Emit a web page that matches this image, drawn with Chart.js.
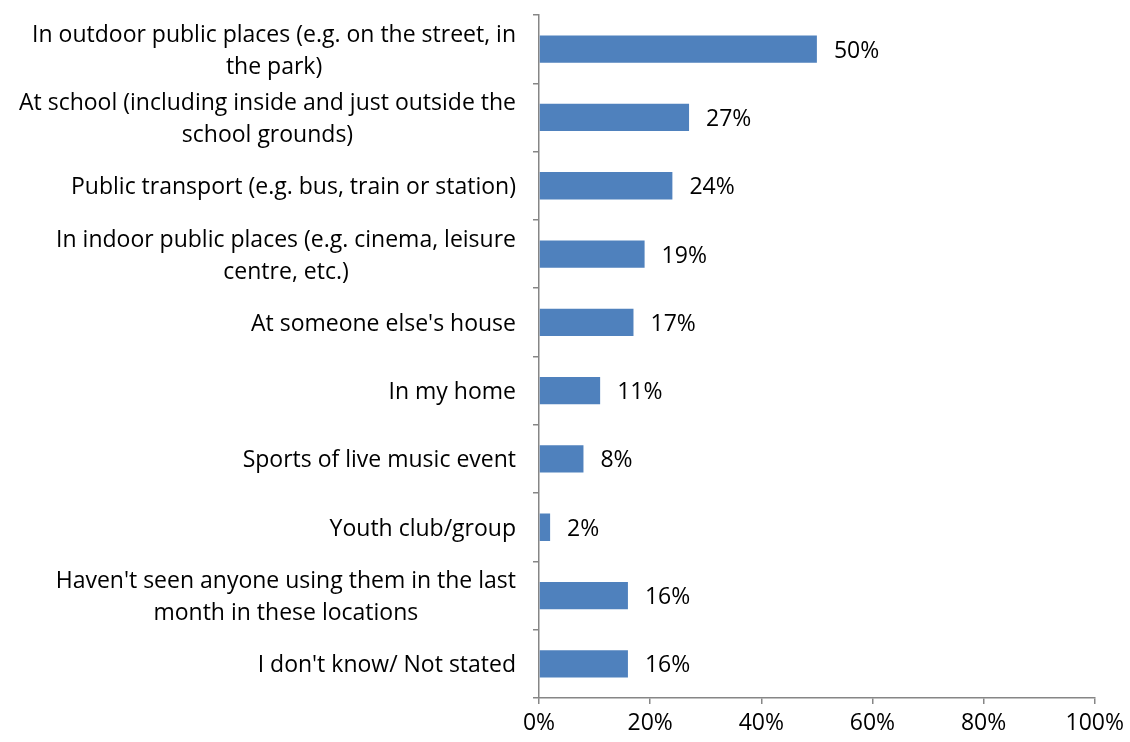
<!DOCTYPE html>
<html>
<head>
<meta charset="utf-8">
<script src="https://cdn.jsdelivr.net/npm/chart.js@4/dist/chart.umd.min.js"></script>
<style>
html,body{margin:0;padding:0;background:#fff;}
</style>
</head>
<body>
<canvas id="placesChart" width="1130" height="742"></canvas>
<script>
const places=[
["In outdoor public places (e.g. on the street, in","the park)"],
["At school (including inside and just outside the","school grounds)"],
["Public transport (e.g. bus, train or station)"],
["In indoor public places (e.g. cinema, leisure","centre, etc.)"],
["At someone else's house"],
["In my home"],
["Sports of live music event"],
["Youth club/group"],
["Haven't seen anyone using them in the last","month in these locations"],
["I don't know/ Not stated"]
];

const percents=[50,27,24,19,17,11,8,2,16,16];

const xTicks=[0,20,40,60,80,100];

const FONT="'Open Sans', sans-serif";
const FONT_SIZE=23;
const AXIS="#868686";

// category labels: block right-aligned to the axis, lines centred inside the block
const placeLabels={
id:"placeLabels",
afterDraw(chart){
const ctx=chart.ctx;
const y=chart.scales.y;
ctx.save();
ctx.font=FONT_SIZE+"px "+FONT;
ctx.fillStyle="#000";
ctx.textAlign="center";
ctx.textBaseline="middle";
const right=y.right-23;
const lh=32;
places.forEach((lines,i)=>{
const w=Math.max(...lines.map(l=>ctx.measureText(l).width));
const cx=right-w/2;
const cy=y.getPixelForValue(i)+2;
const top=cy-(lines.length-1)*lh/2;
lines.forEach((l,j)=>ctx.fillText(l,cx,top+j*lh));
});
ctx.restore();
}
};

// value labels after each bar
const valueLabels={
id:"valueLabels",
afterDatasetsDraw(chart){
const ctx=chart.ctx;
ctx.save();
ctx.font=FONT_SIZE+"px "+FONT;
ctx.fillStyle="#000";
ctx.textAlign="left";
ctx.textBaseline="middle";
chart.getDatasetMeta(0).data.forEach((bar,i)=>{
ctx.fillText(percents[i]+"%",bar.x+17,bar.y+2);
});
ctx.restore();
}
};

new Chart(document.getElementById("placesChart"),{
type:"bar",
data:{
labels:places.map(l=>l.join(" ")),
datasets:[{
data:percents,
backgroundColor:"#4F81BD",
borderWidth:0,
categoryPercentage:1,
barPercentage:0.4
}]
},
options:{
indexAxis:"y",
responsive:false,
animation:false,
layout:{padding:{top:15,right:33,bottom:0,left:0}},
plugins:{
legend:{display:false},
tooltip:{enabled:false}
},
scales:{
x:{
min:0,
max:100,
afterBuildTicks(scale){
scale.ticks=xTicks.map(v=>({value:v}));
},
afterFit(scale){
scale.height=44;
},
border:{color:AXIS,width:1.5},
grid:{
drawOnChartArea:false,
drawTicks:true,
tickLength:6,
color:AXIS,
lineWidth:1.5
},
ticks:{
color:"#000",
padding:6,
maxRotation:0,
font:{family:FONT,size:FONT_SIZE},
callback:v=>v+"%"
}
},
y:{
afterFit(scale){
scale.width=539;
},
border:{color:AXIS,width:1.5},
grid:{
offset:true,
drawOnChartArea:false,
drawTicks:true,
tickLength:6,
color:AXIS,
lineWidth:1.5
},
ticks:{display:false}
}
}
},
plugins:[placeLabels,valueLabels]
});
</script>
</body>
</html>
